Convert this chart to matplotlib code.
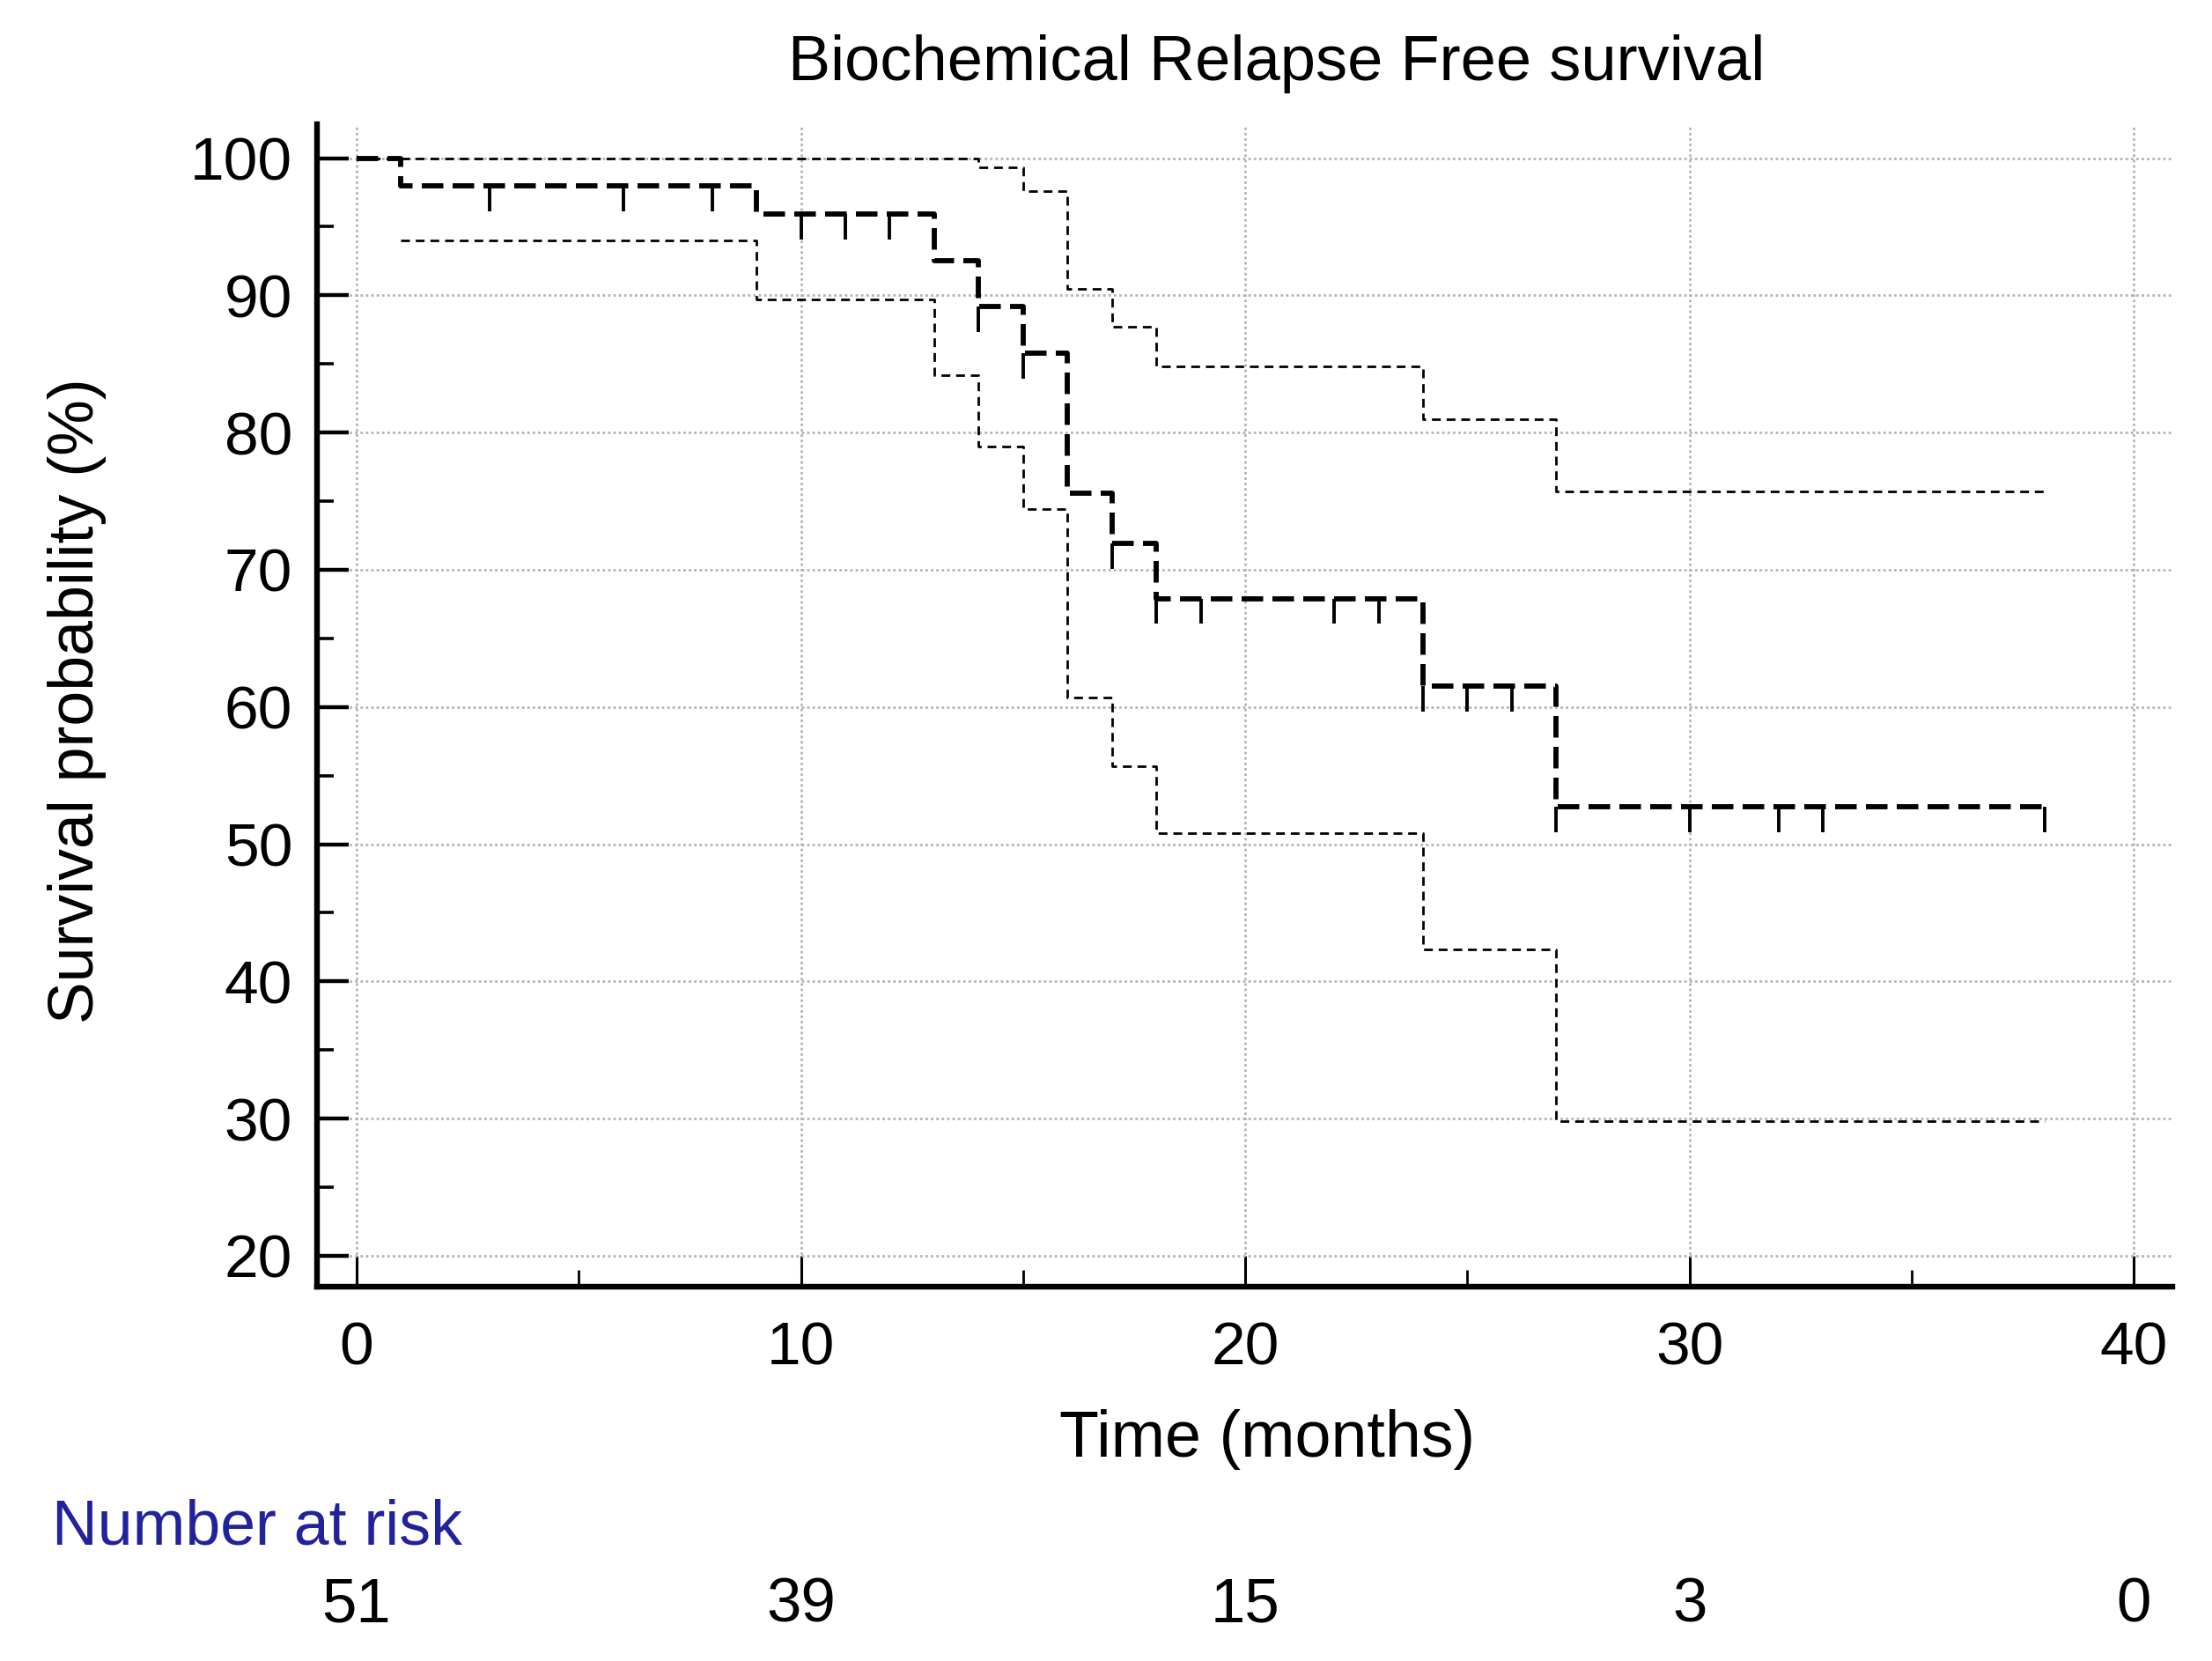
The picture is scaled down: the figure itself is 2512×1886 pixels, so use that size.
import numpy as np
import matplotlib
matplotlib.use("Agg")
import matplotlib.pyplot as plt
import matplotlib.transforms as mtransforms

plt.rcParams['font.family'] = ['Liberation Sans', 'DejaVu Sans']

# Kaplan-Meier estimate (step values, %)
km_time = [0, 1, 9, 13, 14, 15, 16, 17, 18, 24, 27, 38]
km_surv = [100, 98.0, 95.9, 92.5, 89.2, 85.8, 75.6, 71.9, 67.9, 61.5, 52.7, 52.7]

# 95% confidence limits
upper_time = [0, 14, 15, 16, 17, 18, 24, 27, 38]
upper_surv = [100, 99.3, 97.6, 90.5, 87.7, 84.8, 81.0, 75.7, 75.7]
lower_time = [1, 9, 13, 14, 15, 16, 17, 18, 24, 27, 38]
lower_surv = [94.0, 89.7, 84.2, 79.0, 74.4, 60.7, 55.7, 50.8, 42.3, 29.8, 29.8]

# censored observations (months)
censor_times = [3, 6, 8, 10, 11, 12, 14, 15, 17, 18, 19, 22, 23, 24, 25, 26, 27,
                30, 32, 33, 38]

risk_times = [0, 10, 20, 30, 40]
risk_counts = [51, 39, 15, 3, 0]

fig = plt.figure(figsize=(12.56, 9.43), dpi=200)
ax = fig.add_axes([0.1433, 0.2253, 0.982 - 0.1433, 0.9252 - 0.2253])

ax.set_xlim(-0.89, 40.86)
ax.set_ylim(17.74, 102.47)

ax.grid(True, which='major', color='#b4b4b4', linestyle=(0, (1, 1.2)), linewidth=1.0)
ax.set_axisbelow(True)

# confidence limits: thin dotted
ax.plot(upper_time, upper_surv, drawstyle='steps-post', color='black',
        linewidth=1.0, linestyle=(0, (3.6, 2.4)))
ax.plot(lower_time, lower_surv, drawstyle='steps-post', color='black',
        linewidth=1.0, linestyle=(0, (3.6, 2.4)))

# survival curve: thick dashed
ax.plot(km_time, km_surv, drawstyle='steps-post', color='black',
        linewidth=2.1, linestyle=(0, (4.2, 1.8)))

# censor marks, drawn downward from the curve
idx = np.searchsorted(km_time, censor_times, side='right') - 1
cens_y = np.array(km_surv)[idx]
ax.vlines(censor_times, cens_y - 1.85, cens_y, color='black', linewidth=1.4)

for s in ['top', 'right']:
    ax.spines[s].set_visible(False)
for s in ['left', 'bottom']:
    ax.spines[s].set_linewidth(2.3)

ax.set_xticks([0, 10, 20, 30, 40])
ax.set_xticks([5, 15, 25, 35], minor=True)
ax.set_yticks(range(20, 101, 10))
ax.set_yticks(range(25, 100, 10), minor=True)
ax.tick_params(axis='both', which='major', direction='in', labelsize=25,
               colors='black')
ax.tick_params(axis='x', which='major', length=12.7, width=1.1, pad=14)
ax.tick_params(axis='x', which='minor', direction='in', length=7, width=1.0)
ax.tick_params(axis='y', which='major', length=13, width=1.6, pad=10)
ax.tick_params(axis='y', which='minor', direction='in', length=7, width=1.3)

fig.text(0.577, 0.9618, 'Biochemical Relapse Free survival', fontsize=26,
         ha='center', va='center')
fig.text(0.573, 0.1336, 'Time (months)', fontsize=26.5, ha='center', va='center')
fig.text(0.035, 0.578, 'Survival probability (%)', fontsize=25.8, ha='center',
         va='center', rotation=90)

fig.text(0.0235, 0.080, 'Number at risk', fontsize=25.8, ha='left', va='center',
         color='#22229a')
trans = mtransforms.blended_transform_factory(ax.transData, fig.transFigure)
for t, n in zip(risk_times, risk_counts):
    ax.text(t, 0.0334, str(n), transform=trans, fontsize=25.5, ha='center',
            va='center', clip_on=False)

fig.savefig('out.png', dpi=200)
